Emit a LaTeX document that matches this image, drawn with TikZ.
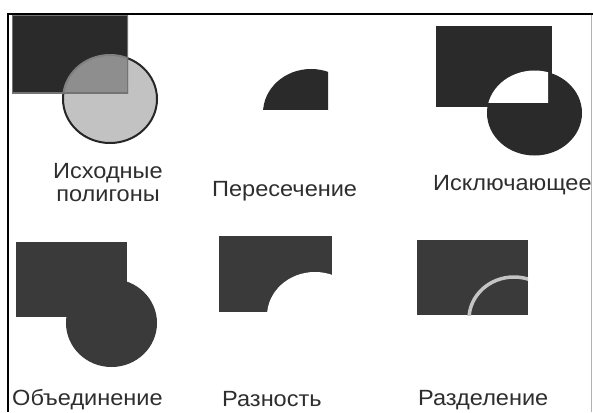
\documentclass[tikz,border=0pt]{standalone}
\usepackage{fontspec}
\setmainfont{Liberation Sans}
\definecolor{shapeA}{HTML}{2A2A2A}
\definecolor{shapeB}{HTML}{3A3A3A}
\definecolor{circfill}{HTML}{C2C2C2}
\definecolor{overlap}{HTML}{8E8E8E}
\definecolor{txt}{HTML}{2E2E2E}
\definecolor{splitarc}{HTML}{C4C4C4}
\begin{document}
\begin{tikzpicture}[x=1pt,y=-1pt,
  lbl/.style={font=\fontsize{22}{26}\selectfont, text=txt, inner sep=0pt, xscale=1.07},
  frameline/.style={line width=2.5pt, black}]
\useasboundingbox (0,0) rectangle (593,412);
\clip (0,0) rectangle (593,412);
\fill[white] (0,0) rectangle (593,412);

% ---- panel 1: source polygons
\fill[shapeA] (12,15) rectangle (128,93);
\draw[line width=1pt, black!65] (12.5,15.5) rectangle (127.5,92.5);
\filldraw[fill=circfill, draw=black!85, line width=2pt] (110,99) ellipse [x radius=47, y radius=44];
\begin{scope}
  \clip (12,15) rectangle (128,93);
  \fill[overlap] (110,99) ellipse [x radius=47, y radius=44];
  \draw[black!50, line width=2pt] (110,99) ellipse [x radius=47, y radius=44];
  \draw[black!55, line width=2pt] (12,15) rectangle (128,93);
\end{scope}
\node[lbl, anchor=base] (src1) at (108,178) {Исходные};
\node[lbl, anchor=base] (src2) at (108,201) {полигоны};

% ---- panel 2: intersection
\begin{scope}
  \clip (212,31) rectangle (328,109);
  \fill[shapeA] (311,113) ellipse [x radius=48, y radius=44];
\end{scope}
\node[lbl, anchor=base west] (inter) at (212,196) {Пересечение};

% ---- panel 3: exclusive
\fill[shapeA] (436,26) rectangle (552,107);
\fill[shapeA] (534.5,113) ellipse [x radius=47.5, y radius=42.5];
\begin{scope}
  \clip (436,26) rectangle (548,102);
  \fill[white] (534.5,113) ellipse [x radius=47.5, y radius=42.5];
\end{scope}
\node[lbl, anchor=base west] (xor) at (433,190) {Исключающее};

% ---- panel 4: union
\fill[shapeB] (16,242) rectangle (127,317);
\fill[shapeB] (111.5,323) ellipse [x radius=45.5, y radius=44];
\node[lbl, anchor=base west] (uni) at (12,405) {Объединение};

% ---- panel 5: difference
\fill[shapeB] (219,236) rectangle (332,312);
\begin{scope}
  \clip (219,236) rectangle (332,312);
  \fill[white] (315,316) ellipse [x radius=48, y radius=44];
\end{scope}
\node[lbl, anchor=base west] (diff) at (222,406) {Разность};

% ---- panel 6: split
\fill[shapeB] (417,240) rectangle (528,315);
\begin{scope}
  \clip (417,240) rectangle (528,315);
  \draw[splitarc, line width=3.5pt] (514,319) ellipse [x radius=45, y radius=42];
\end{scope}
\node[lbl, anchor=base west] (split) at (418,405) {Разделение};

% ---- frame
\draw[black!30, line width=1pt] (591.5,14) -- (591.5,412);
\draw[frameline] (8,412) -- (8,14) -- (593,14);
\end{tikzpicture}
\end{document}
